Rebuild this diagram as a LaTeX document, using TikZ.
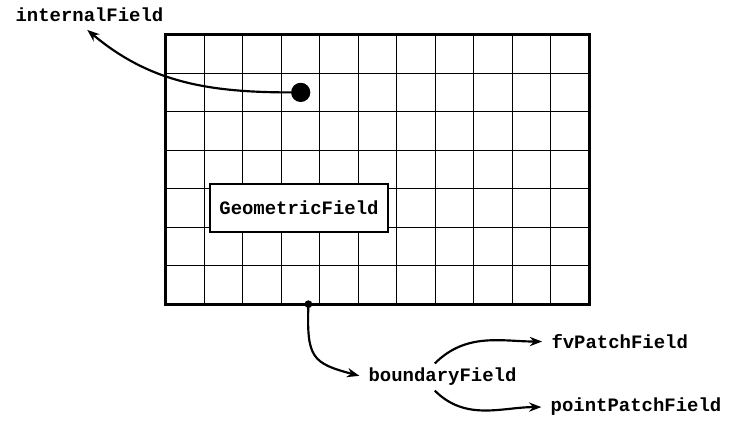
\documentclass[tikz,border=0pt]{standalone}
\usepackage{fontspec}
\usepackage{tikz}
\usetikzlibrary{arrows.meta}
\newfontfamily\fieldmono{Liberation Mono}
\newcommand{\fieldfont}{\fieldmono\bfseries\fontsize{14}{16}\selectfont}
\tikzset{
  fld/.style={font=\fieldfont, anchor=base west},
  geo/.style={draw, line width=1.5pt, fill=white, minimum width=4.6cm, minimum height=1.25cm, font=\fieldfont},
  gridl/.style={line width=0.7pt},
  frame/.style={line width=2.2pt},
  flow/.style={-{Stealth[length=3.2mm,width=2.4mm]}, line width=1.6pt, shorten >=1.2mm},
  bigdot/.style={circle, fill, inner sep=0pt, minimum size=5mm},
  smalldot/.style={circle, fill, inner sep=0pt, minimum size=2mm},
}

\begin{document}
\begin{tikzpicture}
\fill[white] (-4.31,-2.94) rectangle (14.65,7.90);
% mesh
\draw[gridl] (0,0) grid (11,7);
\node[geo] (geo) at (3.455,2.505) {GeometricField};
\draw[frame] (0,0) rectangle (11,7);
\node[bigdot] (idot) at (3.5,5.5) {};
\node[smalldot] (bdot) at (3.7,0) {};
% labels
\node[fld] (ifield) at (-4.03,7.33) {internalField};
\node[fld] (bfield) at (5.14,-2.02) {boundaryField};
\node[fld] (fvp) at (9.89,-1.15) {fvPatchField};
\node[fld] (ptp) at (9.87,-2.80) {pointPatchField};
% connectors
\draw[flow] (idot.west) to[out=180,in=-40] ([xshift=-1.5mm]ifield.south);
\draw[flow] (bdot.center) to[out=-92,in=165,looseness=1.5] (bfield.west);
\draw[flow] ([xshift=-2mm]bfield.north) to[out=45,in=180] (fvp.west);
\draw[flow] ([xshift=-2mm]bfield.south) to[out=-45,in=180] (ptp.west);
\end{tikzpicture}
\end{document}
